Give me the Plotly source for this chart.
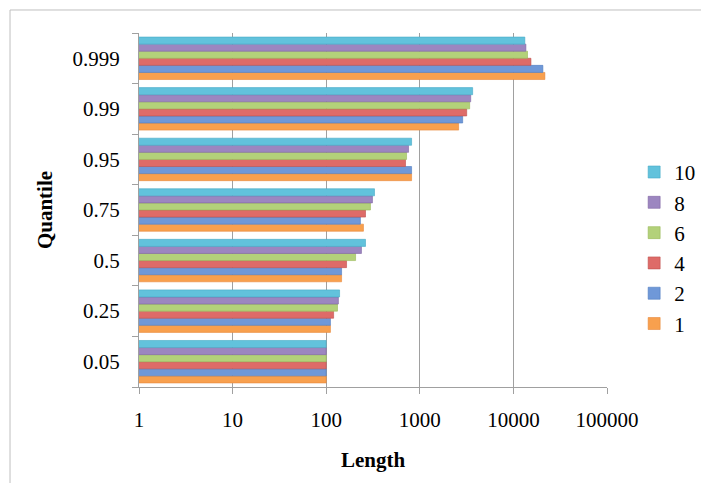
import plotly.graph_objects as go

quantiles = ["0.05", "0.25", "0.5", "0.75", "0.95", "0.99", "0.999"]
series_names = ["1", "2", "4", "6", "8", "10"]
s1 = [100, 111, 146, 250, 817, 2600, 21700]
s2 = [100, 111, 146, 232, 817, 2870, 20650]
s4 = [100, 120, 165, 263, 704, 3170, 15400]
s6 = [100, 132, 206, 297, 722, 3410, 14150]
s8 = [100, 135, 238, 312, 758, 3500, 13600]
s10 = [100, 139, 263, 328, 817, 3670, 13250]
series_values = [s1, s2, s4, s6, s8, s10]
x_tick_vals = [1, 10, 100, 1000, 10000, 100000]
x_tick_text = ["1", "10", "100", "1000", "10000", "100000"]

colors = ["#F8A04E", "#6F98D8", "#DE6B68", "#B3D17A", "#9C86C0", "#62C2DC"]
lines = ["#E8883A", "#4F7CC0", "#C0504D", "#98B858", "#8064A2", "#45AAC6"]

fig = go.Figure()
for name, vals, c, lc in zip(series_names, series_values, colors, lines):
    fig.add_trace(go.Bar(
        y=quantiles, x=vals, name=name, orientation="h",
        marker=dict(color=c, line=dict(color=lc, width=0.6)),
        legendgroup=name,
    ))

serif = "Liberation Serif"
fs = 21
fig.update_layout(
    width=701, height=475,
    margin=dict(l=131, r=102, t=25, b=96, autoexpand=False),
    paper_bgcolor="white", plot_bgcolor="white",
    barmode="group", bargap=0.16, bargroupgap=0,
    font=dict(family=serif, size=fs, color="#000000"),
    showlegend=True,
    legend=dict(
        x=1.058, y=0.393, xanchor="left", yanchor="middle",
        traceorder="reversed", tracegroupgap=13,
        font=dict(family=serif, size=fs, color="#000000"),
        itemwidth=30, borderwidth=0,
    ),
    xaxis=dict(
        type="log", range=[0, 5], automargin=False,
        tickvals=x_tick_vals, ticktext=x_tick_text,
        tickfont=dict(family=serif, size=fs, color="#000000"),
        showgrid=True, gridcolor="#A0A0A0", gridwidth=1.3,
        showline=True, linecolor="#A0A0A0", linewidth=1.3,
        ticks="outside", ticklen=6, tickcolor="#A0A0A0",
        ticklabelstandoff=8,
        title=dict(text="<b>Length</b>", font=dict(family=serif, size=fs), standoff=20),
        zeroline=False,
    ),
    yaxis=dict(
        type="category", categoryorder="array", categoryarray=quantiles,
        automargin=False,
        tickfont=dict(family=serif, size=fs, color="#000000"),
        showgrid=False,
        showline=True, linecolor="#A0A0A0", linewidth=1.3,
        ticks="outside", ticklen=6, tickcolor="#A0A0A0", tickson="boundaries",
        ticklabelstandoff=14,
        title=dict(text="<b>Quantile</b>", font=dict(family=serif, size=fs), standoff=14),
    ),
    shapes=[dict(
        type="rect", xref="paper", yref="paper",
        x0=-0.2756, x1=1.26, y0=-0.32, y1=1.065,
        line=dict(color="#BFBFBF", width=1), fillcolor="rgba(0,0,0,0)", layer="below",
    )],
)

fig.write_html("out.html")
